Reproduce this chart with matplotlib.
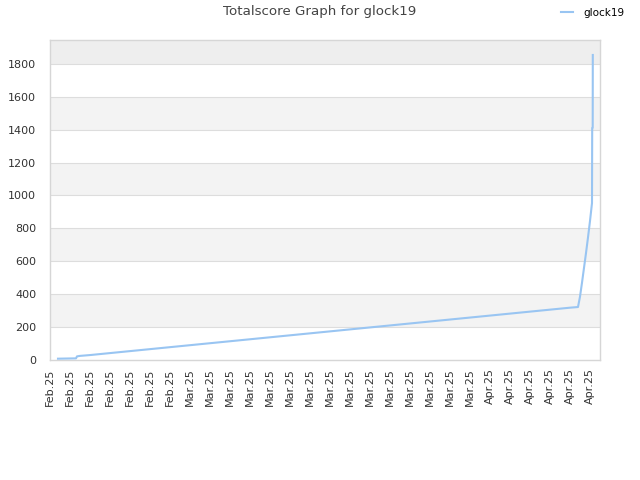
import matplotlib
matplotlib.use("Agg")
import matplotlib.pyplot as plt
import datetime as dt

title = "Totalscore Graph for glock19"
series_name = "glock19"

# x positions as days since 2025-02-16 00:00, values of total score
start_days = [0.8, 2.6, 2.7]
start_vals = [8, 10, 22]
daily_days = list(range(3, 53))
daily_vals = [25, 30, 36, 42, 48, 54, 60, 66, 72, 78,
              84, 90, 96, 102, 108, 114, 120, 126, 132, 138,
              144, 150, 156, 162, 168, 174, 180, 186, 192, 198,
              204, 210, 216, 222, 228, 234, 240, 246, 252, 258,
              264, 270, 276, 282, 288, 294, 300, 306, 312, 318]
end_days = [52.8, 53.0, 53.2, 53.4, 53.6, 53.8, 54.0, 54.2, 54.22, 54.27, 54.28]
end_vals = [322, 385, 470, 560, 650, 745, 845, 954, 1410, 1412, 1854]

tick_days = list(range(0, 55, 2))
tick_labels = ["Feb.25"] * 7 + ["Mar.25"] * 15 + ["Apr.25"] * 6
y_ticks = [0, 200, 400, 600, 800, 1000, 1200, 1400, 1600, 1800]

base = dt.datetime(2025, 2, 16)
xs_days = start_days + daily_days + end_days
ys = start_vals + daily_vals + end_vals
xs = [base + dt.timedelta(days=d) for d in xs_days]
ticks = [base + dt.timedelta(days=d) for d in tick_days]

fig = plt.figure(figsize=(6.4, 4.8), dpi=100)
ax = fig.add_axes([50/640, 1-360/480, 550/640, 320/480])

ymax = 1945
ax.set_ylim(0, ymax)
ax.set_xlim(base, base + dt.timedelta(days=55))

# alternating bands
for i, yt in enumerate(y_ticks):
    top = y_ticks[i+1] if i + 1 < len(y_ticks) else ymax
    if i % 2 == 1:
        col = "#eeeeee" if i + 1 >= len(y_ticks) else "#f3f3f3"
        ax.axhspan(yt, top, color=col, zorder=0, lw=0)
for yt in y_ticks[1:]:
    ax.axhline(yt, color="#dddddd", lw=0.8, zorder=1)

ax.plot(xs, ys, color="#99c5f2", lw=1.5, label=series_name, zorder=3)

ax.set_yticks(y_ticks)
ax.set_xticks(ticks)
ax.set_xticklabels(tick_labels, rotation=90)
ax.tick_params(axis="both", length=0, labelsize=8, labelcolor="#333333", pad=6)
ax.tick_params(axis="y", pad=10)
for s in ax.spines.values():
    s.set_color("#d6d6d6")
    s.set_linewidth(1)

fig.text(0.5, 1-12/480, title, ha="center", va="center", fontsize=9.6, color="#444444")
fig.legend(loc="upper right", bbox_to_anchor=(0.99, 1.003), frameon=False,
           fontsize=7.5, handlelength=1.1, handletextpad=1.0)

fig.savefig("out.png", dpi=100)
